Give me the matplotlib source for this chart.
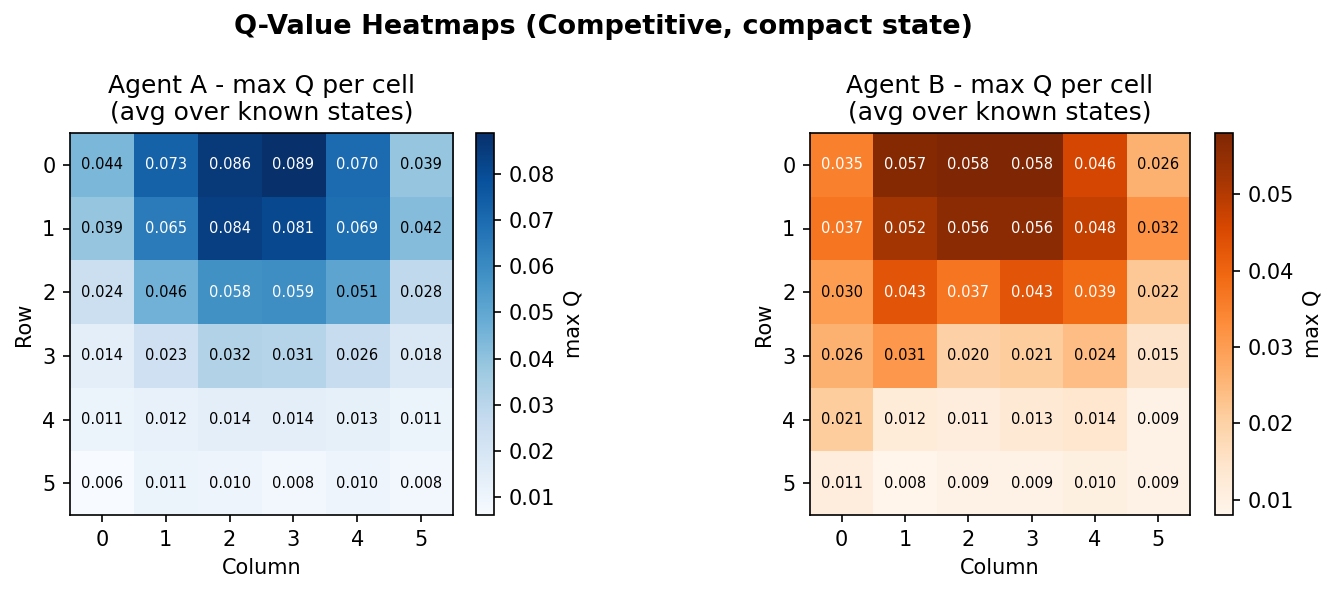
import matplotlib
matplotlib.use("Agg")
import matplotlib.pyplot as plt
import numpy as np

rows = [0, 1, 2, 3, 4, 5]
cols = [0, 1, 2, 3, 4, 5]
agent_a = [
    [0.044, 0.073, 0.086, 0.089, 0.070, 0.039],
    [0.039, 0.065, 0.084, 0.081, 0.069, 0.042],
    [0.024, 0.046, 0.058, 0.059, 0.051, 0.028],
    [0.014, 0.023, 0.032, 0.031, 0.026, 0.018],
    [0.011, 0.012, 0.014, 0.014, 0.013, 0.011],
    [0.006, 0.011, 0.010, 0.008, 0.010, 0.008],
]
agent_b = [
    [0.035, 0.057, 0.058, 0.058, 0.046, 0.026],
    [0.037, 0.052, 0.056, 0.056, 0.048, 0.032],
    [0.030, 0.043, 0.037, 0.043, 0.039, 0.022],
    [0.026, 0.031, 0.020, 0.021, 0.024, 0.015],
    [0.021, 0.012, 0.011, 0.013, 0.014, 0.009],
    [0.011, 0.008, 0.009, 0.009, 0.010, 0.009],
]

W, H = 1338, 593
fig = plt.figure(figsize=(W / 150, H / 150), dpi=150)

def px(x0, y0, x1, y1):
    return [x0 / W, 1 - y1 / H, (x1 - x0) / W, (y1 - y0) / H]

panels = [
    (agent_a, "Blues", "Agent A - max Q per cell\n(avg over known states)",
     px(70, 133, 453, 515), px(476, 133, 494, 515)),
    (agent_b, "Oranges", "Agent B - max Q per cell\n(avg over known states)",
     px(810, 133, 1190, 515), px(1215, 133, 1233, 515)),
]

for data, cmap, title, rect, crect in panels:
    arr = np.array(data)
    ax = fig.add_axes(rect)
    cax = fig.add_axes(crect)
    im = ax.imshow(arr, cmap=cmap, aspect="auto")
    thr = arr.max() * 0.6
    for i in range(arr.shape[0]):
        for j in range(arr.shape[1]):
            v = arr[i, j]
            ax.text(j, i, f"{v:.3f}", ha="center", va="center", fontsize=7,
                    color="white" if v > thr else "black")
    ax.set_xticks(range(len(cols)))
    ax.set_xticklabels([str(c) for c in cols], fontsize=10)
    ax.set_yticks(range(len(rows)))
    ax.set_yticklabels([str(r) for r in rows], fontsize=10)
    ax.set_xlabel("Column", fontsize=10)
    ax.set_ylabel("Row", fontsize=10)
    ax.set_title(title, fontsize=12)
    cb = fig.colorbar(im, cax=cax)
    cb.set_label("max Q", fontsize=10)
    cb.ax.tick_params(labelsize=10)

fig.suptitle("Q-Value Heatmaps (Competitive, compact state)", fontsize=13,
             fontweight="bold", x=603 / W, y=1 - 27 / H, va="center")

fig.savefig("out.png", dpi=150)
